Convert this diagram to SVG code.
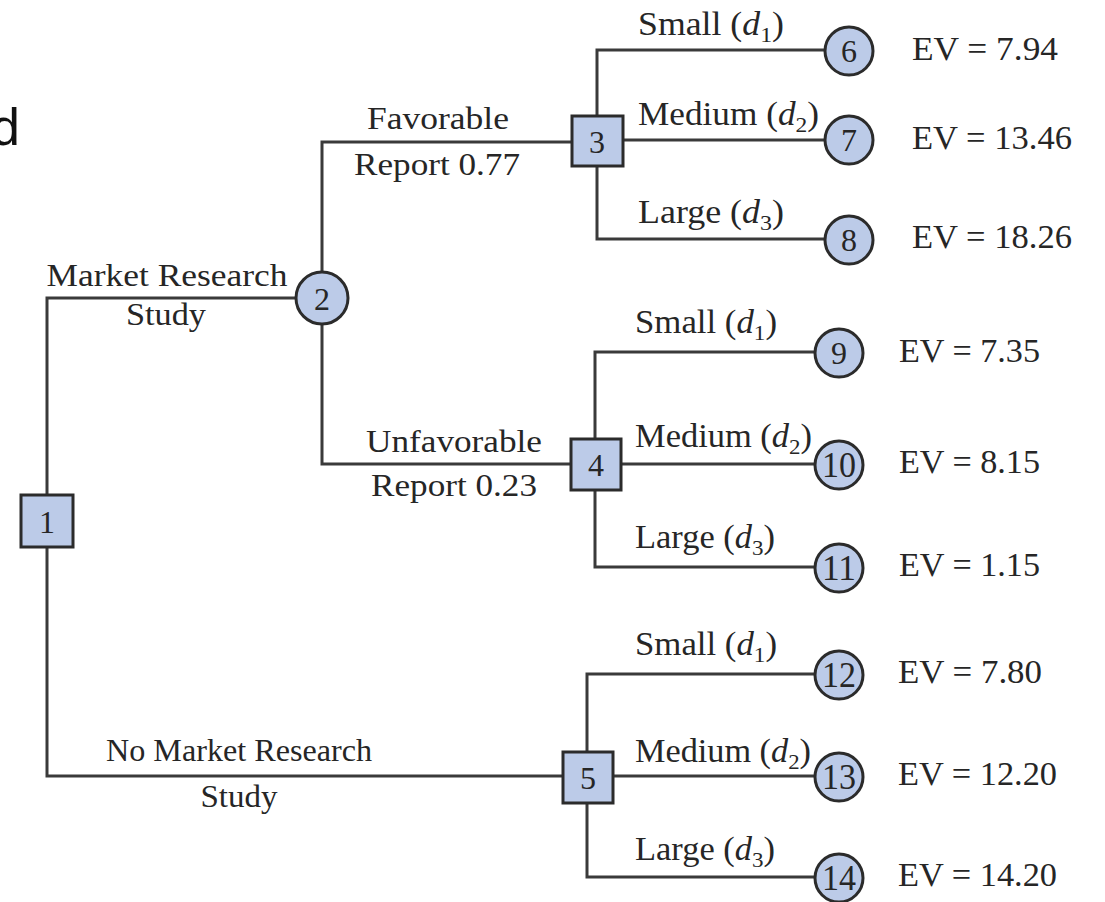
<svg xmlns="http://www.w3.org/2000/svg" width="1105" height="902" viewBox="0 0 1105 902">
  <style>
    .bg { fill: #ffffff; }
    .edge { fill: none; stroke: #3a3a3a; stroke-width: 3; stroke-linecap: square; }
    .dec { fill: #bccbe8; stroke: #2b2b2b; stroke-width: 3; }
    .chance { fill: #bccbe8; stroke: #2b2b2b; stroke-width: 3; }
    .num { font-family: "Liberation Serif", "Times New Roman", serif; font-size: 32px; fill: #262626; text-anchor: middle; }
    .num2 { font-size: 35px; }
    .lbl { font-family: "Liberation Serif", "Times New Roman", serif; font-size: 33px; fill: #262626; }
    .br { font-size: 32px; }
    .mid { text-anchor: middle; }
    .it { font-style: italic; }
    .sub { font-size: 22px; }
    .side { font-family: "Liberation Sans", Arial, sans-serif; font-size: 52px; fill: #111111; }
  </style>

  <rect class="bg" x="0" y="0" width="1105" height="902"/>

  <text class="side" x="-9" y="145">d</text>

  <!-- branches -->
  <g id="connectors">
    <polyline class="edge" points="296,298 47,298 47,776 563,776"/>
    <polyline class="edge" points="572,142 322,142 322,464 571,464"/>
    <!-- decision 3 alternatives -->
    <polyline class="edge" points="825,50 597,50 597,239 825,239"/>
    <line class="edge" x1="623" y1="140" x2="825" y2="140"/>
    <!-- decision 4 alternatives -->
    <polyline class="edge" points="815,352 595,352 595,567 815,567"/>
    <line class="edge" x1="621" y1="464" x2="815" y2="464"/>
    <!-- decision 5 alternatives -->
    <polyline class="edge" points="815,674 587,674 587,877 815,877"/>
    <line class="edge" x1="613" y1="776" x2="815" y2="776"/>
  </g>

  <!-- branch labels -->
  <g id="branch-labels">
    <text class="lbl br mid" x="167" y="286" textLength="241" lengthAdjust="spacingAndGlyphs">Market Research</text>
    <text class="lbl br mid" x="166" y="325" textLength="80" lengthAdjust="spacingAndGlyphs">Study</text>
    <text class="lbl br mid" x="239" y="761" textLength="266" lengthAdjust="spacingAndGlyphs">No Market Research</text>
    <text class="lbl br mid" x="239" y="807" textLength="77" lengthAdjust="spacingAndGlyphs">Study</text>
    <text class="lbl br mid" x="438" y="129" textLength="142" lengthAdjust="spacingAndGlyphs">Favorable</text>
    <text class="lbl br mid" x="437" y="175" textLength="166" lengthAdjust="spacingAndGlyphs">Report 0.77</text>
    <text class="lbl br mid" x="454" y="452" textLength="176" lengthAdjust="spacingAndGlyphs">Unfavorable</text>
    <text class="lbl br mid" x="454" y="496" textLength="166" lengthAdjust="spacingAndGlyphs">Report 0.23</text>

    <text class="lbl" x="638" y="35" textLength="146" lengthAdjust="spacingAndGlyphs">Small (<tspan class="it">d</tspan><tspan class="sub" dy="7">1</tspan><tspan dy="-7">)</tspan></text>
    <text class="lbl" x="638" y="125" textLength="181" lengthAdjust="spacingAndGlyphs">Medium (<tspan class="it">d</tspan><tspan class="sub" dy="7">2</tspan><tspan dy="-7">)</tspan></text>
    <text class="lbl" x="638" y="223" textLength="146" lengthAdjust="spacingAndGlyphs">Large (<tspan class="it">d</tspan><tspan class="sub" dy="7">3</tspan><tspan dy="-7">)</tspan></text>

    <text class="lbl" x="635" y="333" textLength="142" lengthAdjust="spacingAndGlyphs">Small (<tspan class="it">d</tspan><tspan class="sub" dy="7">1</tspan><tspan dy="-7">)</tspan></text>
    <text class="lbl" x="635" y="447" textLength="177" lengthAdjust="spacingAndGlyphs">Medium (<tspan class="it">d</tspan><tspan class="sub" dy="7">2</tspan><tspan dy="-7">)</tspan></text>
    <text class="lbl" x="635" y="548" textLength="140" lengthAdjust="spacingAndGlyphs">Large (<tspan class="it">d</tspan><tspan class="sub" dy="7">3</tspan><tspan dy="-7">)</tspan></text>

    <text class="lbl" x="635" y="655" textLength="142" lengthAdjust="spacingAndGlyphs">Small (<tspan class="it">d</tspan><tspan class="sub" dy="7">1</tspan><tspan dy="-7">)</tspan></text>
    <text class="lbl" x="635" y="762" textLength="176" lengthAdjust="spacingAndGlyphs">Medium (<tspan class="it">d</tspan><tspan class="sub" dy="7">2</tspan><tspan dy="-7">)</tspan></text>
    <text class="lbl" x="635" y="860" textLength="140" lengthAdjust="spacingAndGlyphs">Large (<tspan class="it">d</tspan><tspan class="sub" dy="7">3</tspan><tspan dy="-7">)</tspan></text>
  </g>

  <!-- decision nodes -->
  <g id="node-1"><rect class="dec" x="21" y="495" width="52" height="52"/><text class="num" x="47" y="533">1</text></g>
  <g id="node-3"><rect class="dec" x="572" y="116" width="51" height="50"/><text class="num" x="597" y="153">3</text></g>
  <g id="node-4"><rect class="dec" x="571" y="439" width="50" height="51"/><text class="num" x="596" y="476">4</text></g>
  <g id="node-5"><rect class="dec" x="563" y="752" width="50" height="51"/><text class="num" x="588" y="789">5</text></g>

  <!-- chance and terminal nodes -->
  <g id="node-2"><circle class="chance" cx="322" cy="298" r="26"/><text class="num" x="322" y="310">2</text></g>
  <g id="node-6"><circle class="chance" cx="849" cy="51" r="24"/><text class="num" x="849" y="62">6</text></g>
  <g id="node-7"><circle class="chance" cx="849" cy="140" r="24"/><text class="num" x="849" y="151">7</text></g>
  <g id="node-8"><circle class="chance" cx="849" cy="240" r="24"/><text class="num" x="849" y="251">8</text></g>
  <g id="node-9"><circle class="chance" cx="839" cy="353" r="24"/><text class="num" x="839" y="364">9</text></g>
  <g id="node-10"><circle class="chance" cx="839" cy="465" r="24"/><text class="num num2" x="839" y="477" textLength="34" lengthAdjust="spacingAndGlyphs">10</text></g>
  <g id="node-11"><circle class="chance" cx="839" cy="568" r="24"/><text class="num num2" x="839" y="580" textLength="34" lengthAdjust="spacingAndGlyphs">11</text></g>
  <g id="node-12"><circle class="chance" cx="839" cy="675" r="24"/><text class="num num2" x="839" y="687" textLength="34" lengthAdjust="spacingAndGlyphs">12</text></g>
  <g id="node-13"><circle class="chance" cx="839" cy="777" r="24"/><text class="num num2" x="839" y="789" textLength="34" lengthAdjust="spacingAndGlyphs">13</text></g>
  <g id="node-14"><circle class="chance" cx="839" cy="878" r="24"/><text class="num num2" x="839" y="890" textLength="34" lengthAdjust="spacingAndGlyphs">14</text></g>

  <!-- expected values -->
  <g id="expected-values">
    <text class="lbl" x="912" y="60" textLength="146" lengthAdjust="spacingAndGlyphs">EV = 7.94</text>
    <text class="lbl" x="912" y="149" textLength="160" lengthAdjust="spacingAndGlyphs">EV = 13.46</text>
    <text class="lbl" x="912" y="248" textLength="160" lengthAdjust="spacingAndGlyphs">EV = 18.26</text>
    <text class="lbl" x="899" y="362" textLength="141" lengthAdjust="spacingAndGlyphs">EV = 7.35</text>
    <text class="lbl" x="899" y="473" textLength="141" lengthAdjust="spacingAndGlyphs">EV = 8.15</text>
    <text class="lbl" x="899" y="576" textLength="141" lengthAdjust="spacingAndGlyphs">EV = 1.15</text>
    <text class="lbl" x="898" y="683" textLength="144" lengthAdjust="spacingAndGlyphs">EV = 7.80</text>
    <text class="lbl" x="898" y="785" textLength="159" lengthAdjust="spacingAndGlyphs">EV = 12.20</text>
    <text class="lbl" x="898" y="886" textLength="159" lengthAdjust="spacingAndGlyphs">EV = 14.20</text>
  </g>
</svg>
